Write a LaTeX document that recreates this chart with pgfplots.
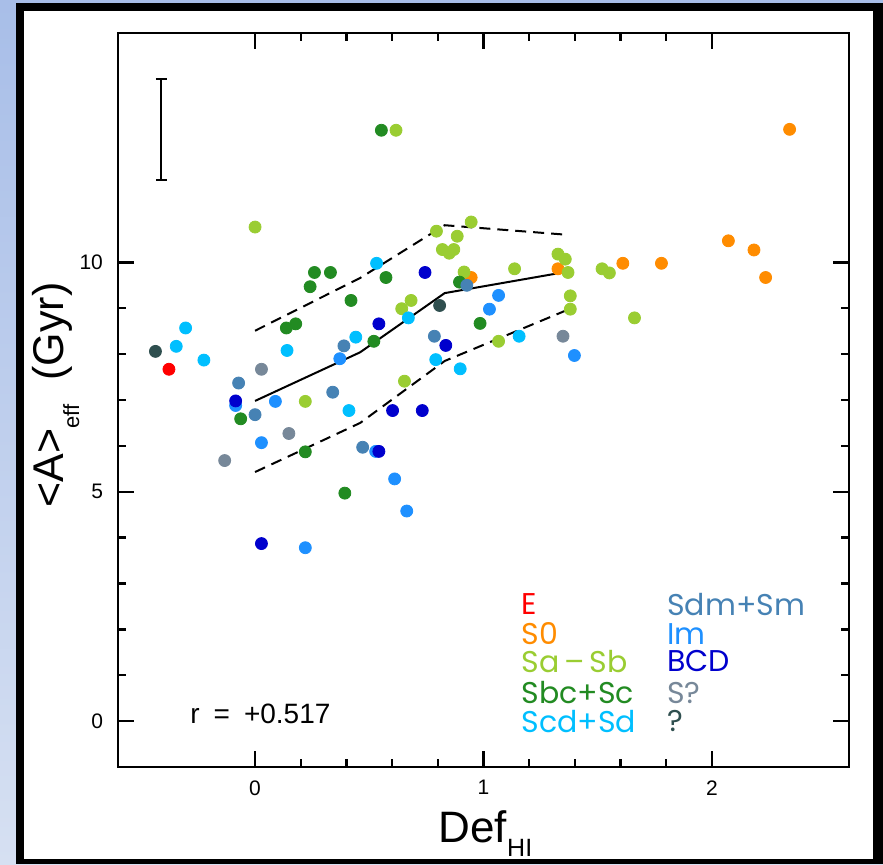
\documentclass[border=0pt]{standalone}
\usepackage{fontspec}
\setmainfont{Liberation Sans}
\newfontfamily\legfont{Poppins}
\usepackage{pgfplots}
\pgfplotsset{compat=1.18}

% morphological-type colours
\definecolor{cE}{HTML}{FF0000}
\definecolor{cSO}{HTML}{FF8C00}
\definecolor{cSaSb}{HTML}{9ACD32}
\definecolor{cSbcSc}{HTML}{228B22}
\definecolor{cScdSd}{HTML}{00BFFF}
\definecolor{cSdmSm}{HTML}{4682B4}
\definecolor{cIm}{HTML}{1E90FF}
\definecolor{cBCD}{HTML}{0000CD}
\definecolor{cSq}{HTML}{778899}
\definecolor{cQ}{HTML}{2F4F4F}
\definecolor{bgtop}{RGB}{168,190,232}
\definecolor{bgbot}{RGB}{214,224,242}

\begin{document}
\begin{tikzpicture}
\useasboundingbox (0,0) rectangle (441.5pt,432pt);
% slide background and frame
\shade[top color=bgtop, bottom color=bgbot] (0,0) rectangle (441.5pt,432pt);
\fill[black] (8pt,0pt) rectangle (441.5pt,430.5pt);
\fill[white] (12pt,2.5pt) rectangle (436.5pt,426.5pt);
\begin{axis}[
  at={(59pt,48.5pt)}, anchor=south west, scale only axis,
  width=365.5pt, height=367pt,
  xmin=-0.6, xmax=2.6, ymin=-1, ymax=15,
  xtick={0,1,2}, ytick={0,5,10},
  minor x tick num=4, minor y tick num=4,
  axis line style={line width=1.3pt},
  every tick/.style={black, line width=1.2pt},
  major tick length=8pt, minor tick length=4pt,
  /pgf/number format/assume math mode=true,
  tick label style={font=\fontsize{10.5}{12}\selectfont},
  xticklabel style={yshift=-3.2pt},
  yticklabel style={xshift=-4pt},
  clip=false,
  mark size=3pt,
]
% E
\addplot[only marks, mark=*, color=cE] coordinates {(-0.377,7.67)};
% S0
\addplot[only marks, mark=*, color=cSO] coordinates {
 (0.946,9.67) (1.326,9.86) (1.61,9.98) (1.779,9.98) (2.072,10.47)
 (2.184,10.27) (2.235,9.67) (2.34,12.9)};
% Sa-Sb
\addplot[only marks, mark=*, color=cSaSb] coordinates {
 (0,10.77) (0.617,12.88) (0.794,10.68) (0.946,10.88) (0.885,10.57)
 (0.82,10.28) (0.87,10.28) (0.85,10.2) (0.915,9.79) (1.136,9.86)
 (0.683,9.17) (0.642,8.99) (0.654,7.41) (0.22,6.97) (1.066,8.28)
 (1.326,10.18) (1.358,10.07) (1.37,9.78) (1.38,9.27) (1.38,8.98)
 (1.519,9.86) (1.551,9.77) (1.661,8.79)};
% Sbc+Sc
\addplot[only marks, mark=*, color=cSbcSc] coordinates {
 (0.553,12.88) (0.26,9.78) (0.33,9.78) (0.241,9.47) (0.42,9.17)
 (0.137,8.57) (0.178,8.66) (0.573,9.67) (0.895,9.57) (0.985,8.67)
 (0.52,8.28) (-0.063,6.59) (0.22,5.87) (0.393,4.97)};
% Scd+Sd
\addplot[only marks, mark=*, color=cScdSd] coordinates {
 (-0.304,8.57) (-0.345,8.17) (-0.224,7.87) (0.14,8.08) (0.532,9.98)
 (0.671,8.79) (0.441,8.37) (0.791,7.88) (0.898,7.68) (1.156,8.39)
 (0.411,6.77)};
% Sdm+Sm
\addplot[only marks, mark=*, color=cSdmSm] coordinates {
 (-0.072,7.37) (0,6.68) (0.34,7.17) (0.389,8.18) (0.785,8.39)
 (0.927,9.5) (0.471,5.97)};
% Im
\addplot[only marks, mark=*, color=cIm] coordinates {
 (-0.085,6.88) (0.089,6.97) (0.371,7.9) (0.028,6.07) (0.22,3.78)
 (1.066,9.28) (1.026,8.98) (1.398,7.97) (0.528,5.88) (0.611,5.28)
 (0.664,4.58)};
% BCD
\addplot[only marks, mark=*, color=cBCD] coordinates {
 (-0.085,6.98) (0.744,9.78) (0.542,8.66) (0.835,8.19) (0.602,6.77)
 (0.732,6.77) (0.542,5.88) (0.028,3.87)};
% S?
\addplot[only marks, mark=*, color=cSq] coordinates {
 (0.028,7.67) (0.148,6.27) (-0.133,5.68) (1.348,8.39)};
% ?
\addplot[only marks, mark=*, color=cQ] coordinates {
 (-0.436,8.06) (0.808,9.06)};

% running median and scatter band
\addplot[black, line width=1pt] coordinates {
 (0,6.98) (0.46,8.04) (0.83,9.33) (1.37,9.8)};
\addplot[black, line width=1pt, dash pattern=on 5.5pt off 3.5pt] coordinates {
 (0,8.51) (0.46,9.66) (0.83,10.81) (1.37,10.6)};
\addplot[black, line width=1pt, dash pattern=on 5.5pt off 3.5pt] coordinates {
 (0,5.43) (0.46,6.5) (0.83,7.85) (1.37,8.97)};

% typical uncertainty
\addplot[draw=none, mark=none,
  error bars/.cd, y dir=both, y explicit,
  error bar style={draw=black, line width=1pt},
  error mark options={draw=black, rotate=90, mark size=2.75pt, line width=1pt}]
  coordinates {(-0.41,12.9) +- (0,1.1)};

% correlation coefficient
\node[anchor=west, inner sep=0pt, font=\fontsize{14}{14}\selectfont]
  at (axis cs:-0.285,0.15) {r\hspace{7pt}=\hspace{7pt}+0.517};

% type key
\begin{scope}[every node/.style={anchor=west, inner sep=0pt,
    font=\legfont\fontsize{15}{15}\selectfont}]
\node[text=cE]     at (axis cs:1.165,2.55) {E};
\node[text=cSO]    at (axis cs:1.165,1.90) {S0};
\node[text=cSaSb]  at (axis cs:1.165,1.30) {Sa\,\textendash\,Sb};
\node[text=cSbcSc] at (axis cs:1.165,0.62) {Sbc+Sc};
\node[text=cScdSd] at (axis cs:1.165,0.00) {Scd+Sd};
\node[text=cSdmSm] at (axis cs:1.803,2.55) {Sdm+Sm};
\node[text=cIm]    at (axis cs:1.803,1.90) {Im};
\node[text=cBCD]   at (axis cs:1.803,1.30) {BCD};
\node[text=cSq]    at (axis cs:1.803,0.62) {S?};
\node[text=cQ]     at (axis cs:1.803,0.00) {?};
\end{scope}

% axis titles
\node[anchor=base] at (axis description cs:0.5027,-0.1035)
  {\fontsize{22}{22}\selectfont Def\raisebox{-7pt}{\fontsize{12.5}{12.5}\selectfont HI}};
\node[anchor=base, rotate=90] at (axis description cs:-0.0752,0.507)
  {\fontsize{21.5}{21.5}\selectfont <A>\raisebox{-8pt}{\fontsize{11}{11}\selectfont eff}\hspace{12pt}(Gyr)};
\end{axis}
\end{tikzpicture}
\end{document}
